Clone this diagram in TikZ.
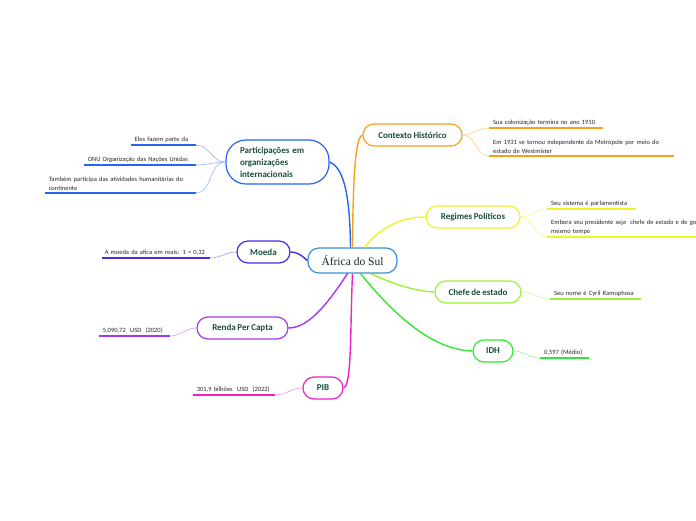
\documentclass[tikz,border=0pt]{standalone}
\usepackage{fontspec}
\setmainfont{Carlito}[WordSpace=0.75]
\newfontfamily\ctrfont{Liberation Serif}
\definecolor{tgreen}{HTML}{1B4D3E}
\definecolor{ctrc}{HTML}{3A8FD3}
\definecolor{corange}{HTML}{F7A21B}\definecolor{lorange}{HTML}{FCD58F}
\definecolor{cyellow}{HTML}{F2F226}\definecolor{lyellow}{HTML}{F8F690}
\definecolor{clgreen}{HTML}{9DF03A}\definecolor{llgreen}{HTML}{CDF8A0}
\definecolor{cgreen}{HTML}{33E633}\definecolor{lgreen}{HTML}{A0F5A0}
\definecolor{cmag}{HTML}{EE22CC}\definecolor{lmag}{HTML}{F5A0E8}
\definecolor{cpurp}{HTML}{A836F0}\definecolor{lpurp}{HTML}{D6A8F8}
\definecolor{cmoeda}{HTML}{4A2BE0}\definecolor{lmoeda}{HTML}{AFA2F2}
\definecolor{cblue}{HTML}{2565F0}\definecolor{lblue}{HTML}{A2BCF8}
\begin{document}
\begin{tikzpicture}[x=1pt,y=-1pt,
  mainbox/.style={draw, line width=1.2pt, rounded corners=11pt, fill=white,
    font=\fontsize{9}{12}\selectfont\bfseries, text=tgreen, minimum height=22pt,
    inner ysep=2pt, anchor=center},
  leafbox/.style={inner xsep=4pt, inner ysep=2.5pt, align=left,
    font=\fontsize{6.5}{9}\selectfont, text=black!85},
  mainline/.style={line width=1.4pt},
  leafline/.style={line width=0.7pt},
  under/.style={line width=1.4pt},
]
\useasboundingbox (0,0) rectangle (696,520);
\clip (0,0) rectangle (696,520);

% centre
\node[draw=ctrc, line width=1.2pt, rounded corners=11pt, fill=white,
  minimum width=89pt, minimum height=25pt, font=\ctrfont\fontsize{11.5}{12}\selectfont, text=tgreen!60!black]
  (ctr) at (352.5,260.5) {África do Sul};

% main nodes
\node[mainbox, draw=corange, minimum width=99pt] (C) at (412.5,135) {Contexto Histórico};
\node[mainbox, draw=cyellow, minimum width=94pt] (R) at (473,217) {Regimes Políticos};
\node[mainbox, draw=clgreen, minimum width=86pt] (H) at (478,292) {Chefe de estado};
\node[mainbox, draw=cgreen, minimum width=40pt] (I) at (493,351) {IDH};
\node[mainbox, draw=cmag, minimum width=40pt] (P) at (323,388) {PIB};
\node[mainbox, draw=cpurp, minimum width=91pt] (N) at (242.5,328) {Renda Per Capta};
\node[mainbox, draw=cmoeda, minimum width=53pt] (M) at (263.5,252) {Moeda};
\node[mainbox, draw=cblue, minimum width=103pt, minimum height=44pt, rounded corners=20pt,
  align=left, text width=75pt, font=\fontsize{9}{12}\selectfont\bfseries]
  (T) at (277.5,162) {Participações em\\organizações\\internacionais};

% main connectors
\draw[mainline, corange] (ctr.north) .. controls (353,180) and (355,138) .. (C.west);
\draw[mainline, cblue] ([xshift=-2pt]ctr.north) .. controls (350,200) and (345,168) .. (T.east);
\draw[mainline, cyellow] ([xshift=12pt]ctr.north) .. controls (380,228) and (400,217) .. (R.west);
\draw[mainline, clgreen] ([xshift=18pt]ctr.south) .. controls (385,280) and (410,291) .. (H.west);
\draw[mainline, cgreen] ([xshift=8pt]ctr.south) .. controls (390,310) and (430,350) .. (I.west);
\draw[mainline, cmag] (ctr.south) .. controls (350,330) and (352,385) .. (P.east);
\draw[mainline, cpurp] ([xshift=-5pt]ctr.south) .. controls (330,300) and (310,328) .. (N.east);
\draw[mainline, cmoeda] (ctr.west) .. controls (300,254) and (296,252) .. (M.east);

% leaves: right side
\node[leafbox, anchor=south west, text width=106pt] (c1) at (489,128) {Sua colonização termina no ano 1910};
\node[leafbox, anchor=south west, text width=177pt] (c2) at (489,156) {Em 1931 se tornou independente da Metrópole por meio do\\estado de Westmister};
\node[leafbox, anchor=south west, text width=81pt] (r1) at (547,209) {Seu sistema é parlamentista};
\node[leafbox, anchor=south west, text width=190pt] (r2) at (547,237) {Embora seu presidente seja\ \ chefe de estado e de governo ao\\mesmo tempo};
\node[leafbox, anchor=south west, text width=83pt] (h1) at (550,299) {Seu nome é Cyril Ramophosa};
\node[leafbox, anchor=south west, text width=41pt] (i1) at (540,358) {0,597 (Médio)};
% leaves: left side
\node[leafbox, anchor=south east, text width=74pt] (p1) at (275,395) {301,9 bilhões\ \ USD\ \ (2022)};
\node[leafbox, anchor=south east, text width=63pt] (n1) at (170,336) {5,090,72\ \ USD\ \ (2020)};
\node[leafbox, anchor=south east, inner xsep=3pt, text width=102pt] (m1) at (210,258) {A moeda da afica em reais: 1 = 0,32};
\node[leafbox, anchor=south east, text width=57pt] (t1) at (196,145) {Eles fazem parte da};
\node[leafbox, anchor=south east, text width=104pt] (t2) at (196,165) {ONU Organização das Nações Unidas};
\node[leafbox, anchor=south east, text width=143pt] (t3) at (196,193) {Também participa das atividades humanitárias do\\continente};

% underlines
\draw[under, corange] (c1.south west) -- (c1.south east);
\draw[under, corange] (c2.south west) -- (c2.south east);
\draw[under, cyellow] (r1.south west) -- (r1.south east);
\draw[under, cyellow] (r2.south west) -- ([xshift=20pt]r2.south east);
\draw[under, clgreen] (h1.south west) -- (h1.south east);
\draw[under, cgreen] (i1.south west) -- (i1.south east);
\draw[under, cmag] (p1.south west) -- (p1.south east);
\draw[under, cpurp] (n1.south west) -- (n1.south east);
\draw[under, cmoeda] (m1.south west) -- (m1.south east);
\draw[under, cblue] (t1.south west) -- (t1.south east);
\draw[under, cblue] (t2.south west) -- (t2.south east);
\draw[under, cblue] (t3.south west) -- (t3.south east);

% leaf connectors
\draw[leafline, lorange] (C.east) to[out=0,in=180] (c1.south west);
\draw[leafline, lorange] (C.east) to[out=0,in=180] (c2.south west);
\draw[leafline, lyellow] (R.east) to[out=0,in=180] (r1.south west);
\draw[leafline, lyellow] (R.east) to[out=0,in=180] (r2.south west);
\draw[leafline, llgreen] (H.east) to[out=0,in=180] (h1.south west);
\draw[leafline, lgreen] (I.east) to[out=0,in=180] (i1.south west);
\draw[leafline, lmag] (P.west) to[out=180,in=0] (p1.south east);
\draw[leafline, lpurp] (N.west) to[out=180,in=0] (n1.south east);
\draw[leafline, lmoeda] (M.west) to[out=180,in=0] (m1.south east);
\draw[leafline, lblue] (T.west) to[out=180,in=0] (t1.south east);
\draw[leafline, lblue] (T.west) to[out=180,in=0] (t2.south east);
\draw[leafline, lblue] (T.west) to[out=180,in=0] (t3.south east);
\end{tikzpicture}
\end{document}
